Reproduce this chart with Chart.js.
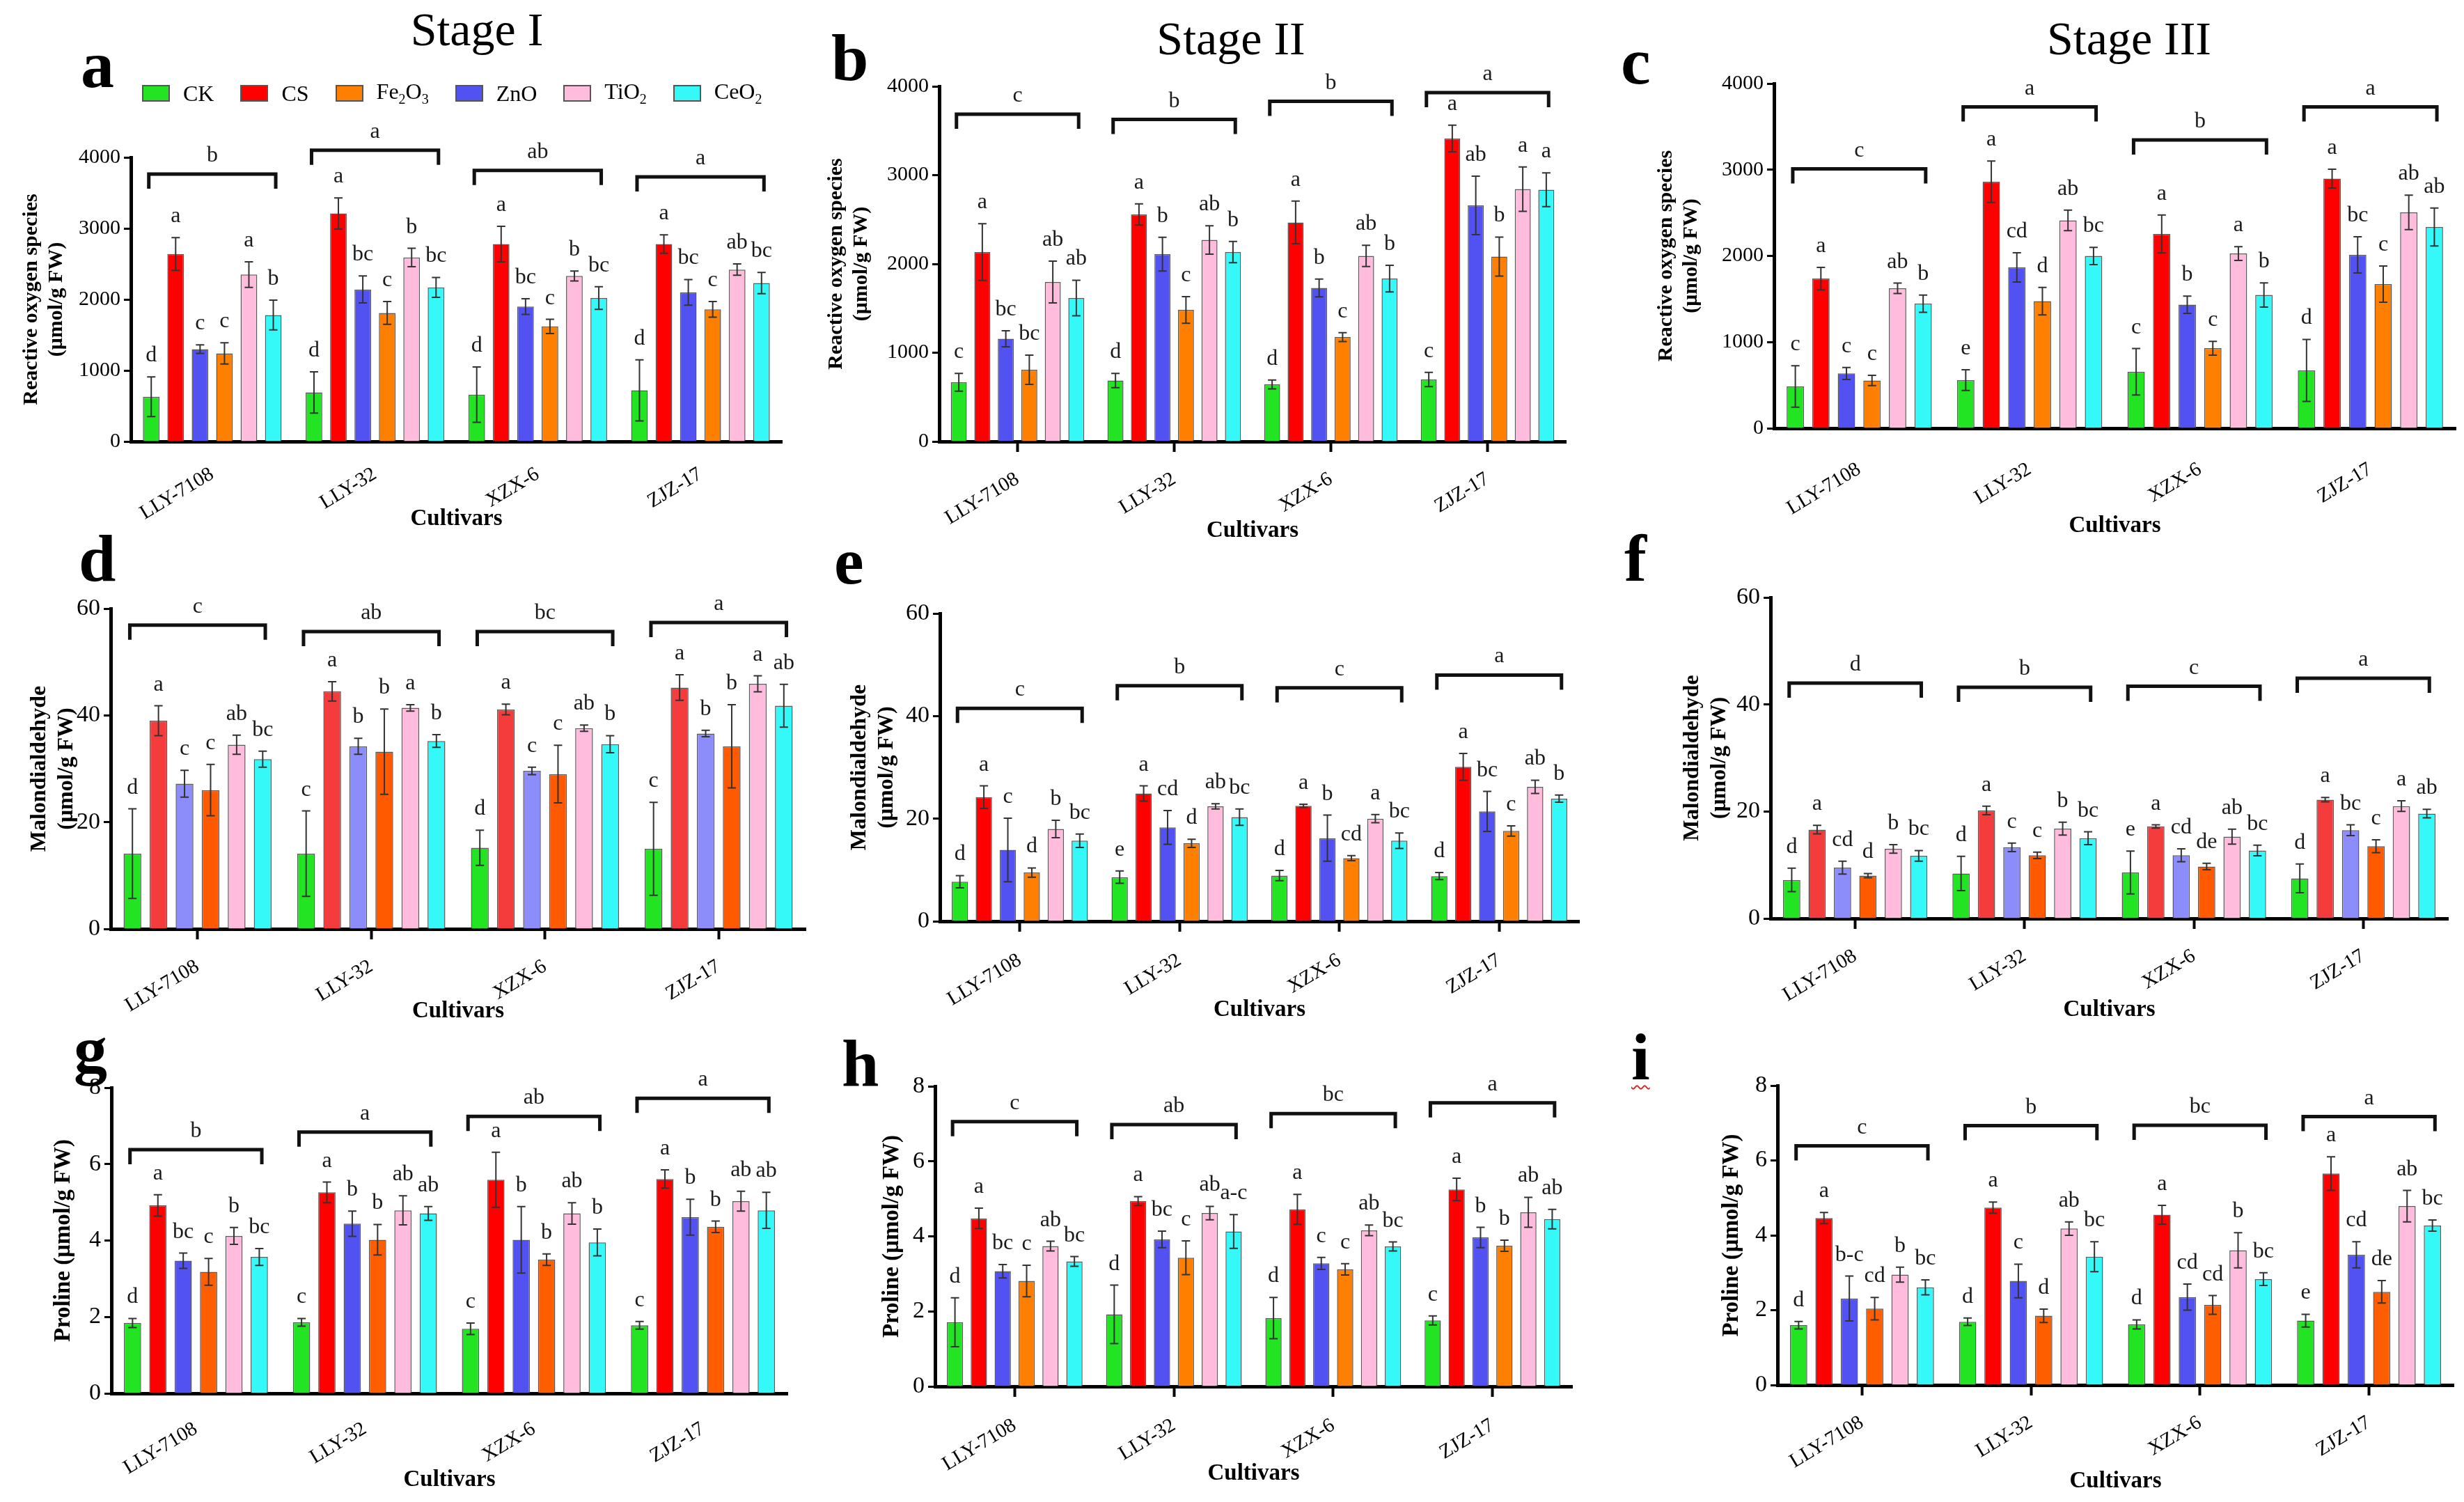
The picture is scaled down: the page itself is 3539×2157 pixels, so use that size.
<!DOCTYPE html>
<html>
<head>
<meta charset="utf-8">
<title>ROS, MDA and proline by cultivar</title>
<script src="https://cdn.jsdelivr.net/npm/chart.js@4.4.1/dist/chart.umd.min.js"></script>
<style>
  body { margin: 0; background: #fff; }
  #fig { position: relative; width: 3539px; height: 2157px; background: #fff; font-family: "Liberation Serif", "Times New Roman", serif; color: #000; overflow: hidden; }
  .cell { position: absolute; }
  .tag { position: absolute; font-size: 96px; font-weight: bold; line-height: 1; }
  .tag.flag { text-decoration: underline wavy #e02020; text-decoration-thickness: 2px; text-underline-offset: 8px; }
  .stage { position: absolute; font-size: 68px; line-height: 1; transform: translateX(-50%); white-space: nowrap; }
  #legend { position: absolute; left: 204px; top: 115px; display: flex; align-items: center; gap: 38px; font-size: 32px; line-height: 1; }
  #legend .item { display: flex; align-items: center; }
  #legend .box { display: inline-block; width: 36px; height: 20px; border: 2px solid #555; margin-right: 19px; }
  #legend sub { font-size: 20px; }
</style>
</head>
<body>
<div id="fig"></div>
<script>
const cultivars = ['LLY-7108', 'LLY-32', 'XZX-6', 'ZJZ-17'];
// bar order inside every cultivar group
const treatments = ['CK', 'CS', 'ZnO', 'Fe2O3', 'TiO2', 'CeO2'];
// legend order (index into treatments) and legend text
const legendOrder = [0, 1, 3, 2, 4, 5];
const legendNames = ['CK', 'CS', 'ZnO', 'Fe<sub>2</sub>O<sub>3</sub>', 'TiO<sub>2</sub>', 'CeO<sub>2</sub>'];

// ---- a: Reactive oxygen species, stage I (rows = treatments, cols = cultivars)
const rosI = [[630, 690, 660, 720], [2640, 3210, 2780, 2780], [1300, 2140, 1900, 2100], [1240, 1810, 1620, 1860], [2350, 2590, 2330, 2420], [1780, 2170, 2020, 2230]];
const rosIErr = [[280, 290, 390, 430], [230, 220, 250, 130], [60, 190, 110, 180], [150, 160, 100, 110], [180, 130, 70, 80], [210, 140, 160, 150]];
const rosISig = [['d', 'd', 'd', 'd'], ['a', 'a', 'a', 'a'], ['c', 'bc', 'bc', 'bc'], ['c', 'c', 'c', 'c'], ['a', 'b', 'b', 'ab'], ['b', 'bc', 'bc', 'bc']];
const rosIGroup = ['b', 'a', 'ab', 'a'];
const rosIBracket = [3765, 4100, 3815, 3725];

// ---- b: ROS, stage II
const rosII = [[667, 686, 643, 698], [2133, 2557, 2467, 3412], [1157, 2110, 1729, 2659], [808, 1482, 1176, 2082], [1796, 2270, 2090, 2843], [1616, 2133, 1835, 2835]];
const rosIIErr = [[100, 80, 50, 80], [320, 120, 240, 150], [90, 190, 100, 330], [165, 150, 50, 220], [235, 160, 120, 250], [200, 120, 150, 190]];
const rosIISig = [['c', 'd', 'd', 'c'], ['a', 'a', 'a', 'a'], ['bc', 'b', 'b', 'ab'], ['bc', 'c', 'c', 'b'], ['ab', 'ab', 'ab', 'a'], ['ab', 'b', 'b', 'a']];
const rosIIGroup = ['c', 'b', 'b', 'a'];
const rosIIBracket = [3686, 3627, 3831, 3929];

// ---- c: ROS, stage III
const rosIII = [[485, 558, 655, 671], [1737, 2861, 2255, 2897], [636, 1867, 1434, 2012], [554, 1475, 929, 1673], [1624, 2412, 2028, 2505], [1446, 2000, 1547, 2335]];
const rosIIIErr = [[240, 120, 270, 360], [130, 240, 220, 110], [70, 170, 100, 210], [60, 160, 80, 210], [60, 120, 80, 200], [100, 100, 140, 220]];
const rosIIISig = [['c', 'e', 'c', 'd'], ['a', 'a', 'a', 'a'], ['c', 'cd', 'b', 'bc'], ['c', 'd', 'c', 'c'], ['ab', 'ab', 'a', 'ab'], ['b', 'bc', 'b', 'ab']];
const rosIIIGroup = ['c', 'a', 'b', 'a'];
const rosIIIBracket = [3010, 3729, 3345, 3729];

// ---- d: Malondialdehyde, stage I
const mdaI = [[14.1, 14.1, 15.2, 15.0], [39.0, 44.5, 41.1, 45.2], [27.2, 34.2, 29.6, 36.6], [26.0, 33.2, 29.0, 34.2], [34.5, 41.4, 37.6, 45.9], [31.8, 35.2, 34.6, 41.8]];
const mdaIErr = [[8.4, 8.0, 3.3, 8.7], [2.8, 1.8, 1.0, 2.4], [2.5, 1.5, 0.7, 0.6], [4.8, 8.0, 5.4, 7.8], [1.8, 0.6, 0.6, 1.5], [1.5, 1.2, 1.6, 4.0]];
const mdaISig = [['d', 'c', 'd', 'c'], ['a', 'a', 'a', 'a'], ['c', 'b', 'c', 'b'], ['c', 'b', 'c', 'b'], ['ab', 'a', 'ab', 'a'], ['bc', 'b', 'b', 'ab']];
const mdaIGroup = ['c', 'ab', 'bc', 'a'];
const mdaIBracket = [56.9, 55.7, 55.7, 57.4];

// ---- e: MDA, stage II
const mdaII = [[7.7, 8.6, 8.9, 8.8], [24.2, 24.9, 22.5, 30.1], [13.9, 18.3, 16.2, 21.4], [9.5, 15.2, 12.3, 17.6], [18.0, 22.4, 20.0, 26.2], [15.7, 20.3, 15.7, 23.9]];
const mdaIIErr = [[1.2, 1.2, 1.0, 0.7], [2.2, 1.5, 0.3, 2.6], [6.2, 3.3, 4.5, 3.9], [0.9, 0.8, 0.5, 1.0], [1.7, 0.5, 0.8, 1.3], [1.3, 1.6, 1.5, 0.7]];
const mdaIISig = [['d', 'e', 'd', 'd'], ['a', 'a', 'a', 'a'], ['c', 'cd', 'b', 'bc'], ['d', 'd', 'cd', 'c'], ['b', 'ab', 'a', 'ab'], ['bc', 'bc', 'bc', 'b']];
const mdaIIGroup = ['c', 'b', 'c', 'a'];
const mdaIIBracket = [41.5, 45.9, 45.5, 48.0];

// ---- f: MDA, stage III
const mdaIII = [[7.2, 8.4, 8.6, 7.5], [16.6, 20.2, 17.2, 22.2], [9.5, 13.3, 11.8, 16.5], [8.0, 11.8, 9.7, 13.5], [13.0, 16.8, 15.3, 21.0], [11.7, 15.0, 12.7, 19.6]];
const mdaIIIErr = [[2.2, 3.2, 4.0, 2.7], [0.8, 0.8, 0.3, 0.4], [1.2, 0.8, 1.2, 1.0], [0.4, 0.6, 0.6, 1.2], [0.8, 1.2, 1.4, 1.0], [1.0, 1.2, 1.0, 0.8]];
const mdaIIISig = [['d', 'd', 'e', 'd'], ['a', 'a', 'a', 'a'], ['cd', 'c', 'cd', 'bc'], ['d', 'c', 'de', 'c'], ['b', 'b', 'ab', 'a'], ['bc', 'bc', 'bc', 'ab']];
const mdaIIIGroup = ['d', 'b', 'c', 'a'];
const mdaIIIBracket = [44.0, 43.2, 43.4, 44.9];

// ---- g: Proline, stage I
const proI = [[1.84, 1.86, 1.69, 1.78], [4.92, 5.26, 5.59, 5.61], [3.47, 4.44, 4.02, 4.61], [3.18, 4.02, 3.50, 4.36], [4.12, 4.79, 4.71, 5.03], [3.57, 4.71, 3.95, 4.79]];
const proIErr = [[0.12, 0.10, 0.15, 0.10], [0.28, 0.27, 0.72, 0.24], [0.20, 0.33, 0.87, 0.47], [0.35, 0.40, 0.15, 0.15], [0.22, 0.38, 0.28, 0.26], [0.22, 0.18, 0.35, 0.47]];
const proISig = [['d', 'c', 'c', 'c'], ['a', 'a', 'a', 'a'], ['bc', 'b', 'b', 'b'], ['c', 'b', 'b', 'b'], ['b', 'ab', 'ab', 'ab'], ['bc', 'ab', 'b', 'ab']];
const proIGroup = ['b', 'a', 'ab', 'a'];
const proIBracket = [6.38, 6.84, 7.25, 7.72];

// ---- h: Proline, stage II
const proII = [[1.71, 1.92, 1.82, 1.76], [4.48, 4.94, 4.72, 5.25], [3.07, 3.92, 3.28, 3.97], [2.81, 3.43, 3.12, 3.75], [3.74, 4.62, 4.16, 4.64], [3.33, 4.13, 3.73, 4.46]];
const proIIErr = [[0.65, 0.78, 0.55, 0.12], [0.27, 0.12, 0.40, 0.30], [0.18, 0.22, 0.16, 0.27], [0.42, 0.45, 0.15, 0.15], [0.13, 0.18, 0.14, 0.40], [0.13, 0.45, 0.12, 0.26]];
const proIISig = [['d', 'd', 'd', 'c'], ['a', 'a', 'a', 'a'], ['bc', 'bc', 'c', 'b'], ['c', 'c', 'c', 'b'], ['ab', 'ab', 'ab', 'ab'], ['bc', 'a-c', 'bc', 'ab']];
const proIIGroup = ['c', 'ab', 'bc', 'a'];
const proIIBracket = [7.06, 6.98, 7.27, 7.56];

// ---- i: Proline, stage III
const proIII = [[1.60, 1.69, 1.62, 1.72], [4.46, 4.74, 4.55, 5.65], [2.31, 2.78, 2.35, 3.48], [2.04, 1.85, 2.14, 2.49], [2.95, 4.18, 3.60, 4.78], [2.61, 3.43, 2.83, 4.26]];
const proIIIErr = [[0.10, 0.10, 0.12, 0.17], [0.15, 0.15, 0.25, 0.45], [0.60, 0.45, 0.35, 0.35], [0.30, 0.18, 0.25, 0.30], [0.20, 0.18, 0.47, 0.42], [0.20, 0.40, 0.17, 0.15]];
const proIIISig = [['d', 'd', 'd', 'e'], ['a', 'a', 'a', 'a'], ['b-c', 'c', 'cd', 'cd'], ['cd', 'd', 'cd', 'de'], ['b', 'ab', 'b', 'ab'], ['bc', 'bc', 'bc', 'bc']];
const proIIIGroup = ['c', 'b', 'bc', 'a'];
const proIIIBracket = [6.39, 6.93, 6.94, 7.17];

// colours (bar order)
const paletteMain = ['#22e422', '#ff0000', '#5252f2', '#ff7f00', '#ffbcdc', '#35f8f8'];
const paletteSoft = ['#22e422', '#f43c3c', '#8c8cfa', '#ff5a00', '#ffbcdc', '#35f8f8'];
const paletteDeep = ['#22e422', '#ff0000', '#5252f2', '#ff5e00', '#ffbcdc', '#35f8f8'];

const rosTitle = ['Reactive oxygen species', '(\u03bcmol/g FW)'];
const mdaTitle = ['Malondialdehyde', '(\u03bcmol/g FW)'];
const proTitle = 'Proline (\u03bcmol/g FW)';

const panels = [
  { tag: 'a', tagPos: [116, 45], mean: rosI, err: rosIErr, sig: rosISig, grp: rosIGroup, brk: rosIBracket,
    cell: [0, 0, 1175, 790], area: [188, 226, 1123, 634], ymax: 4000, step: 1000, ytitle: rosTitle, yfont: 30, ytx: 45,
    cultY: 745, xticks: false, lpad: 30, tfont: 30, pal: paletteMain },
  { tag: 'b', tagPos: [1194, 35], mean: rosII, err: rosIIErr, sig: rosIISig, grp: rosIIGroup, brk: rosIIBracket,
    cell: [1175, 0, 1180, 790], area: [1349, 124, 2249, 634], ymax: 4000, step: 1000, ytitle: rosTitle, yfont: 30, ytx: 1201,
    cultY: 762, xticks: true, lpad: 22, tfont: 30, pal: paletteMain },
  { tag: 'c', tagPos: [2328, 40], mean: rosIII, err: rosIIIErr, sig: rosIIISig, grp: rosIIIGroup, brk: rosIIIBracket,
    cell: [2355, 0, 1184, 790], area: [2548, 120, 3527, 615], ymax: 4000, step: 1000, ytitle: rosTitle, yfont: 30, ytx: 2393,
    cultY: 755, xticks: false, lpad: 42, tfont: 30, pal: paletteMain },
  { tag: 'd', tagPos: [113, 754], mean: mdaI, err: mdaIErr, sig: mdaISig, grp: mdaIGroup, brk: mdaIBracket,
    cell: [0, 780, 1175, 700], area: [159, 874, 1157, 1334], ymax: 60, step: 20, ytitle: mdaTitle, yfont: 32, ytx: 57,
    cultY: 1452, xticks: true, lpad: 22, tfont: 34, pal: paletteSoft },
  { tag: 'e', tagPos: [1198, 758], mean: mdaII, err: mdaIIErr, sig: mdaIISig, grp: mdaIIGroup, brk: mdaIIBracket,
    cell: [1175, 780, 1180, 700], area: [1350, 881, 2268, 1323], ymax: 60, step: 20, ytitle: mdaTitle, yfont: 32, ytx: 1235,
    cultY: 1450, xticks: true, lpad: 24, tfont: 34, pal: paletteMain },
  { tag: 'f', tagPos: [2333, 754], mean: mdaIII, err: mdaIIIErr, sig: mdaIIISig, grp: mdaIIIGroup, brk: mdaIIIBracket,
    cell: [2355, 780, 1184, 700], area: [2543, 858, 3516, 1319], ymax: 60, step: 20, ytitle: mdaTitle, yfont: 32, ytx: 2431,
    cultY: 1450, xticks: true, lpad: 22, tfont: 34, pal: paletteSoft },
  { tag: 'g', tagPos: [106, 1460], mean: proI, err: proIErr, sig: proISig, grp: proIGroup, brk: proIBracket,
    cell: [0, 1470, 1175, 687], area: [160, 1562, 1131, 2001], ymax: 8, step: 2, ytitle: proTitle, yfont: 33, ytx: 91,
    cultY: 2125, xticks: false, lpad: 34, tfont: 34, pal: paletteDeep },
  { tag: 'h', tagPos: [1209, 1479], mean: proII, err: proIIErr, sig: proIISig, grp: proIIGroup, brk: proIIBracket,
    cell: [1175, 1470, 1180, 687], area: [1343, 1560, 2258, 1991], ymax: 8, step: 2, ytitle: proTitle, yfont: 33, ytx: 1281,
    cultY: 2116, xticks: true, lpad: 24, tfont: 34, pal: paletteMain },
  { tag: 'i', tagPos: [2343, 1470], flag: true, mean: proIII, err: proIIIErr, sig: proIIISig, grp: proIIIGroup, brk: proIIIBracket,
    cell: [2355, 1470, 1184, 687], area: [2553, 1559, 3524, 1989], ymax: 8, step: 2, ytitle: proTitle, yfont: 33, ytx: 2487,
    cultY: 2127, xticks: true, lpad: 22, tfont: 34, pal: paletteDeep }
];

const stages = [['Stage I', 685, 8], ['Stage II', 1768, 21], ['Stage III', 3058, 21]];

const SERIF = '"Liberation Serif", "Times New Roman", serif';
Chart.defaults.font.family = SERIF;
Chart.defaults.color = '#000';

// error bars, significance letters and group brackets
const annotate = {
  id: 'annotate',
  afterDatasetsDraw(chart) {
    const o = chart.options.plugins.annotate;
    const ctx = chart.ctx, x = chart.scales.x, y = chart.scales.y;
    ctx.save();
    ctx.textAlign = 'center';
    ctx.textBaseline = 'alphabetic';
    chart.data.datasets.forEach((ds, i) => {
      chart.getDatasetMeta(i).data.forEach((bar, j) => {
        const v = ds.data[j], e = o.err[i][j];
        const top = y.getPixelForValue(v + e), bot = y.getPixelForValue(v - e);
        ctx.strokeStyle = '#333';
        ctx.lineWidth = 2;
        ctx.beginPath();
        ctx.moveTo(bar.x, top); ctx.lineTo(bar.x, bot);
        ctx.moveTo(bar.x - 6, top); ctx.lineTo(bar.x + 6, top);
        ctx.moveTo(bar.x - 6, bot); ctx.lineTo(bar.x + 6, bot);
        ctx.stroke();
        ctx.fillStyle = '#1a1a1a';
        ctx.font = '32px ' + SERIF;
        ctx.fillText(o.sig[i][j], bar.x, top - 22);
      });
    });
    ctx.strokeStyle = '#111';
    ctx.lineWidth = 5;
    o.brk.forEach((lvl, j) => {
      const by = y.getPixelForValue(lvl);
      const x0 = x.getPixelForValue(j - 0.39), x1 = x.getPixelForValue(j + 0.39);
      ctx.beginPath();
      ctx.moveTo(x0, by + 21); ctx.lineTo(x0, by); ctx.lineTo(x1, by); ctx.lineTo(x1, by + 21);
      ctx.stroke();
      ctx.fillStyle = '#1a1a1a';
      ctx.font = '32px ' + SERIF;
      ctx.fillText(o.grp[j], x.getPixelForValue(j), by - 18);
    });
    ctx.restore();
  }
};

const fig = document.getElementById('fig');

function addPanel(p) {
  const [cx, cy, cw, ch] = p.cell;
  const [L, T, R, B] = p.area;
  const box = document.createElement('div');
  box.className = 'cell';
  box.style.left = cx + 'px'; box.style.top = cy + 'px';
  box.style.width = cw + 'px'; box.style.height = ch + 'px';
  const cv = document.createElement('canvas');
  box.appendChild(cv);
  fig.appendChild(box);

  const tag = document.createElement('div');
  tag.className = p.flag ? 'tag flag' : 'tag';
  tag.textContent = p.tag;
  tag.style.left = p.tagPos[0] + 'px'; tag.style.top = p.tagPos[1] + 'px';
  fig.appendChild(tag);

  const yLine = p.yfont * 1.2;
  new Chart(cv, {
    type: 'bar',
    data: {
      labels: cultivars,
      datasets: treatments.map((t, i) => ({
        label: t,
        data: p.mean[i],
        backgroundColor: p.pal[i],
        borderColor: '#5a5a5a',
        borderWidth: 1.5,
        categoryPercentage: 0.9,
        barPercentage: 0.68
      }))
    },
    options: {
      responsive: true,
      maintainAspectRatio: false,
      animation: false,
      layout: { padding: { left: 0, top: T - cy, right: cx + cw - R, bottom: 0 } },
      plugins: {
        legend: { display: false },
        tooltip: { enabled: false },
        annotate: { err: p.err, sig: p.sig, grp: p.grp, brk: p.brk }
      },
      scales: {
        x: {
          grid: { display: true, drawOnChartArea: false, drawTicks: p.xticks, offset: false, tickLength: 15, tickWidth: 4, color: '#000' },
          border: { display: true, width: 5, color: '#000' },
          ticks: { autoSkip: false, minRotation: 31, maxRotation: 31, padding: p.lpad, font: { size: 29 }, color: '#000' },
          title: { display: true, text: 'Cultivars', font: { size: 33, weight: 'bold' }, padding: { top: 0, bottom: cy + ch - p.cultY - 33 * 1.2 / 2 } },
          afterFit: s => { s.height = cy + ch - B; }
        },
        y: {
          min: 0,
          max: p.ymax,
          grid: { display: true, drawOnChartArea: false, drawTicks: true, tickLength: 10, tickWidth: 3, color: '#000' },
          border: { display: true, width: 5, color: '#000' },
          ticks: { stepSize: p.step, padding: 5, font: { size: p.tfont }, color: '#000', callback: v => String(v) },
          title: { display: true, text: p.ytitle, font: { size: p.yfont, weight: 'bold' }, padding: { top: p.ytx - cx - yLine / 2, bottom: 0 } },
          afterFit: s => { s.width = L - cx; }
        }
      }
    },
    plugins: [annotate]
  });
}

panels.forEach(addPanel);

stages.forEach(([text, x, top]) => {
  const d = document.createElement('div');
  d.className = 'stage';
  d.textContent = text;
  d.style.left = x + 'px'; d.style.top = top + 'px';
  fig.appendChild(d);
});

// legend for panel a (legend order differs from bar order)
const legend = document.createElement('div');
legend.id = 'legend';
legend.innerHTML = legendOrder.map(i =>
  `<div class="item"><span class="box" style="background:${paletteMain[i]}"></span><span>${legendNames[i]}</span></div>`
).join('');
fig.appendChild(legend);
</script>
</body>
</html>
